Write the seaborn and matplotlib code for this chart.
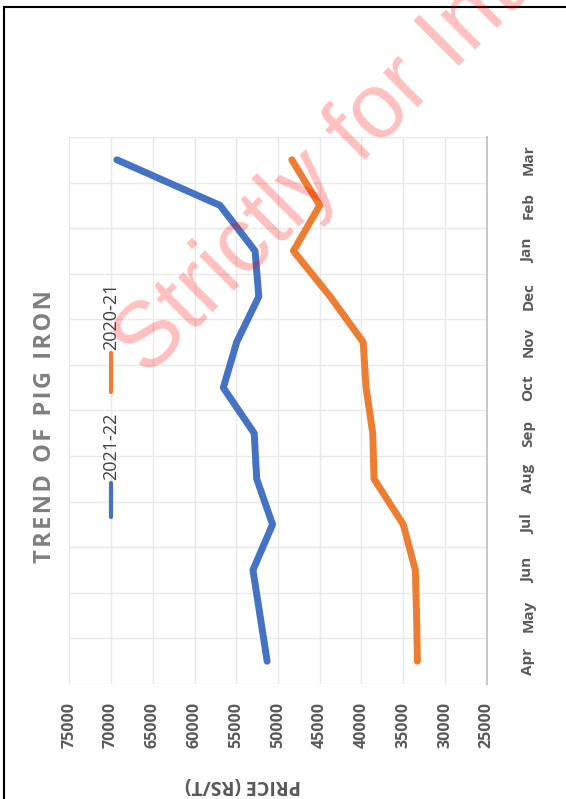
import numpy as np
import pandas as pd
import seaborn as sns
import matplotlib.pyplot as plt
from matplotlib.lines import Line2D
from matplotlib.patches import Rectangle

# ===============================
# 1. Data
# ===============================
months = ["Apr", "May", "Jun", "Jul", "Aug", "Sep",
          "Oct", "Nov", "Dec", "Jan", "Feb", "Mar"]
price_2021_22 = [51300, 52150, 53000, 50650, 52550, 52850,
                 56550, 54950, 52300, 52750, 56950, 69300]
price_2020_21 = [33300, 33400, 33550, 35000, 38500, 38650,
                 39450, 39800, 43750, 48150, 45000, 48350]
seasons = ["2021-22", "2020-21"]
colors = {"2021-22": "#4472C4", "2020-21": "#ED7D31"}
price_ticks = list(range(25000, 75001, 5000))

df = pd.DataFrame({
    "month": list(range(len(months))) * 2,
    "price": price_2021_22 + price_2020_21,
    "season": [seasons[0]] * len(months) + [seasons[1]] * len(months),
})

# ===============================
# 2. Style
# ===============================
sns.set_theme(style="white")
plt.rcParams["font.family"] = ["Open Sans", "DejaVu Sans"]
tick_grey = "#595959"

W, H = 566, 799
fig = plt.figure(figsize=(W / 100, H / 100), dpi=100)
fig.patch.set_facecolor("white")
ax = fig.add_axes([69.3 / W, 1 - 684 / H, (486.7 - 69.3) / W, (684 - 137) / H])

# ===============================
# 3. Lines (chart is turned on its side)
# ===============================
sns.lineplot(data=df, x="price", y="month", hue="season", hue_order=seasons,
             palette=colors, orient="y", sort=True, linewidth=5,
             legend=False, ax=ax, zorder=3)

ax.set_xlim(75000, 25000)
ax.set_xticks(price_ticks)
ax.set_xticklabels([str(p) for p in price_ticks], rotation=90,
                   fontweight="bold", color=tick_grey, fontsize=11.5)
ax.set_ylim(-0.5, len(months) - 0.5)
ax.set_yticks(range(len(months)))
ax.yaxis.tick_right()
ax.set_yticklabels(months, rotation=90, fontweight="bold", color=tick_grey,
                   fontsize=11, va="center")
ax.set_yticks(np.arange(-0.5, len(months)), minor=True)
ax.tick_params(axis="x", length=0, pad=13)
ax.tick_params(axis="y", which="both", length=0, pad=25)
ax.set_xlabel("")
ax.set_ylabel("")

ax.grid(axis="x", which="major", color="#e8e8e8", linewidth=1)
ax.grid(axis="y", which="minor", color="#e8e8e8", linewidth=1)
ax.grid(axis="y", which="major", visible=False)
for side in ["top", "bottom", "left"]:
    ax.spines[side].set_visible(False)
ax.spines["right"].set_color("#c8c8c8")
ax.spines["right"].set_linewidth(1.5)

# ===============================
# 4. Texts, legend, watermark
# ===============================
title = "  ".join("\u200a".join(word) for word in "TREND OF PIG IRON".split())
fig.text(45 / W, 1 - 427 / H, title, rotation=90,
         ha="center", va="center", fontsize=17, fontweight="bold",
         color="#7f7f7f")

fig.text(243 / W, 1 - 785 / H, "PRICE (RS/T)", rotation=180, ha="center",
         va="center", fontsize=14, fontweight="bold", color=tick_grey)

legend_items = [("2021-22", 517, 483, 446), ("2020-21", 392, 353, 316)]
for name, y0, y1, ytxt in legend_items:
    fig.add_artist(Line2D([111 / W, 111 / W], [1 - y0 / H, 1 - y1 / H],
                          color=colors[name], linewidth=3))
    fig.text(111 / W, 1 - ytxt / H, name, rotation=90, ha="center",
             va="center", fontsize=13, color="#404040")

fig.text(148 / W, 1 - 378 / H, "Strictly for Internal Use", rotation=45,
         rotation_mode="anchor", ha="left", va="baseline", fontsize=66,
         family="Liberation Sans", color=(1, 0, 0, 0.25), zorder=10)

fig.add_artist(Rectangle((4 / W, -0.05), 1.05, 1.05 - 7 / H,
                         transform=fig.transFigure, fill=False,
                         edgecolor="black", linewidth=1.5))

fig.savefig("out.png", dpi=100)
